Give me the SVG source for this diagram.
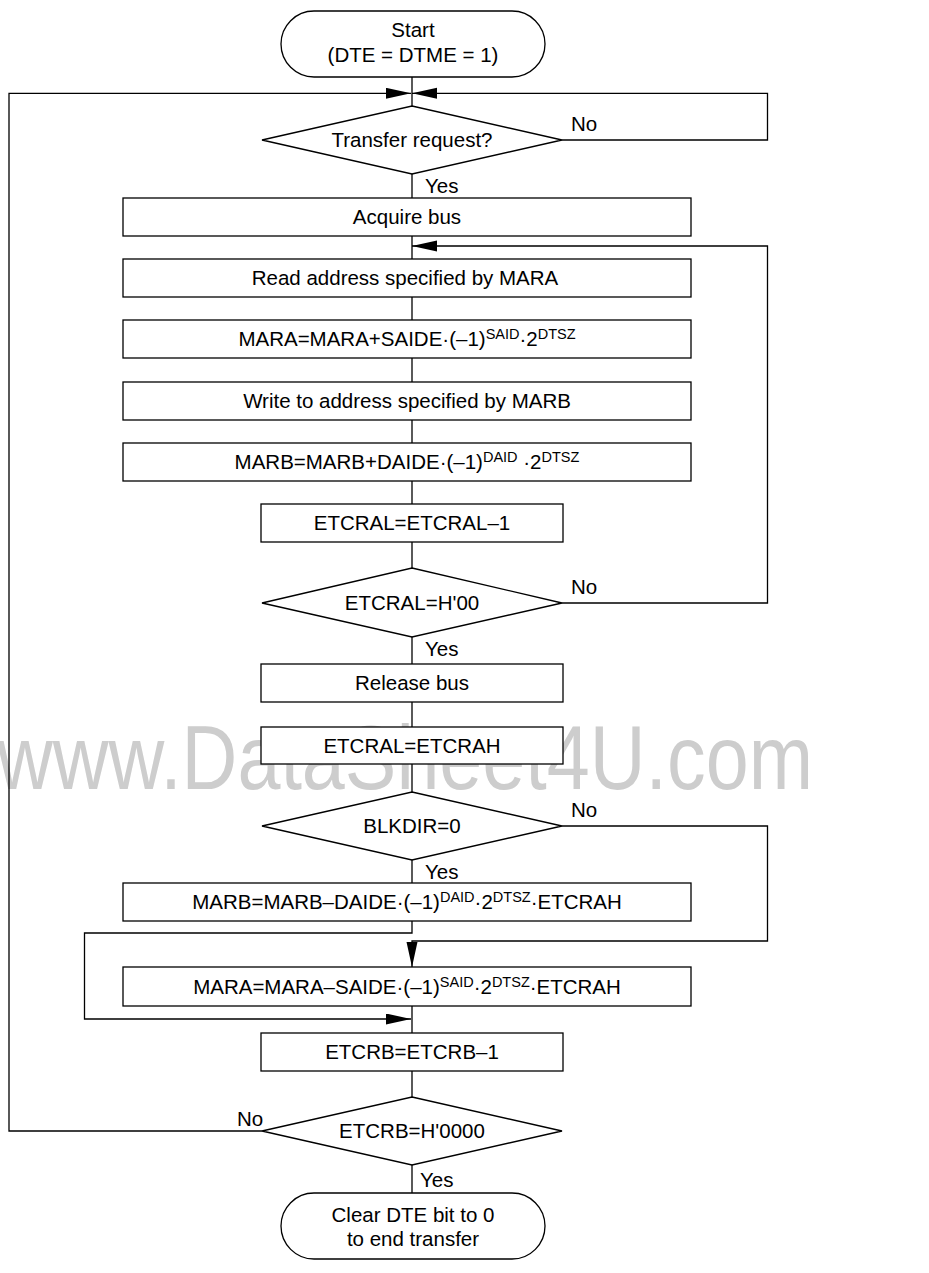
<svg xmlns="http://www.w3.org/2000/svg" width="929" height="1273" viewBox="0 0 929 1273">
<defs>
<marker id="ah" markerUnits="userSpaceOnUse" markerWidth="26" markerHeight="12" refX="25" refY="5.5" orient="auto">
<path d="M0,0 L25,5.5 L0,11 z" fill="#000"/>
</marker>
</defs>
<style>
.s{fill:#fff;stroke:#000;stroke-width:1.3}
.c{fill:none;stroke:#000;stroke-width:1.3}
.a{marker-end:url(#ah)}
text{font-family:"Liberation Sans",Arial,sans-serif;font-size:20.5px;fill:#000}
.m{text-anchor:middle}
.sup{font-size:14.5px}
.wm{font-size:90px;fill:#cdcdcd}
</style>
<rect width="929" height="1273" fill="#fff"/>
<text class="wm" x="-3" y="789" textLength="816" lengthAdjust="spacingAndGlyphs">www.DataSheet4U.com</text>
<g id="connectors">
<path class="c" d="M412,77 V106"/>
<path class="c a" d="M262,1131 H9 V93.3 H411"/>
<path class="c a" d="M562,140 H767.5 V93.3 H412"/>
<path class="c" d="M412,174 V198"/>
<path class="c" d="M412,236 V259"/>
<path class="c a" d="M562,603 H767.5 V246 H412"/>
<path class="c" d="M412,297 V320"/>
<path class="c" d="M412,358 V382"/>
<path class="c" d="M412,420 V443"/>
<path class="c" d="M412,481 V504"/>
<path class="c" d="M412,542 V568"/>
<path class="c" d="M412,637 V664"/>
<path class="c" d="M412,702 V727"/>
<path class="c" d="M412,764 V792"/>
<path class="c" d="M412,860 V883"/>
<path class="c a" d="M562,826 H767.5 V941 H412 V967"/>
<path class="c a" d="M412,921 V933 H84.5 V1019 H411"/>
<path class="c" d="M412,1006 V1033"/>
<path class="c" d="M412,1071 V1097"/>
<path class="c" d="M412,1165 V1193"/>
<text x="571" y="131">No</text>
<text x="425" y="193">Yes</text>
<text x="571" y="594">No</text>
<text x="425" y="656">Yes</text>
<text x="571" y="817">No</text>
<text x="425" y="879">Yes</text>
<text x="237" y="1126">No</text>
<text x="420" y="1187">Yes</text>
</g>
<g id="start">
<rect class="s" x="281" y="11" width="264" height="66" rx="33"/>
<text class="m" x="413" y="37">Start</text>
<text class="m" x="413" y="62">(DTE = DTME = 1)</text>
</g>
<g id="transfer-request">
<polygon class="s" points="412,106 562,140 412,174 262,140"/>
<text class="m" x="412" y="147">Transfer request?</text>
</g>
<g id="acquire-bus">
<rect class="s" x="123" y="198" width="568" height="38"/>
<text class="m" x="407" y="224">Acquire bus</text>
</g>
<g id="read-mara">
<rect class="s" x="123" y="259" width="568" height="38"/>
<text class="m" x="405" y="285">Read address specified by MARA</text>
</g>
<g id="mara-inc">
<rect class="s" x="123" y="320" width="568" height="38"/>
<text class="m" x="407" y="346">MARA=MARA+SAIDE·(–1)<tspan class="sup" dy="-7">SAID</tspan><tspan dy="7">·2</tspan><tspan class="sup" dy="-7">DTSZ</tspan></text>
</g>
<g id="write-marb">
<rect class="s" x="123" y="382" width="568" height="38"/>
<text class="m" x="407" y="408">Write to address specified by MARB</text>
</g>
<g id="marb-inc">
<rect class="s" x="123" y="443" width="568" height="38"/>
<text class="m" x="407" y="469">MARB=MARB+DAIDE·(–1)<tspan class="sup" dy="-7">DAID</tspan><tspan dy="7"> ·2</tspan><tspan class="sup" dy="-7">DTSZ</tspan></text>
</g>
<g id="etcral-dec">
<rect class="s" x="261" y="504" width="302" height="38"/>
<text class="m" x="412" y="530">ETCRAL=ETCRAL–1</text>
</g>
<g id="etcral-zero">
<polygon class="s" points="412,568 562,603 412,637 262,603"/>
<text class="m" x="412" y="610">ETCRAL=H'00</text>
</g>
<g id="release-bus">
<rect class="s" x="261" y="664" width="302" height="38"/>
<text class="m" x="412" y="690">Release bus</text>
</g>
<g id="etcral-reload">
<rect class="s" x="261" y="727" width="302" height="37"/>
<text class="m" x="412" y="753">ETCRAL=ETCRAH</text>
</g>
<g id="blkdir">
<polygon class="s" points="412,792 562,826 412,860 262,826"/>
<text class="m" x="412" y="833">BLKDIR=0</text>
</g>
<g id="marb-rewind">
<rect class="s" x="123" y="883" width="568" height="38"/>
<text class="m" x="407" y="909">MARB=MARB–DAIDE·(–1)<tspan class="sup" dy="-7">DAID</tspan><tspan dy="7">·2</tspan><tspan class="sup" dy="-7">DTSZ</tspan><tspan dy="7">·ETCRAH</tspan></text>
</g>
<g id="mara-rewind">
<rect class="s" x="123" y="967" width="568" height="39"/>
<text class="m" x="407" y="994">MARA=MARA–SAIDE·(–1)<tspan class="sup" dy="-7">SAID</tspan><tspan dy="7">·2</tspan><tspan class="sup" dy="-7">DTSZ</tspan><tspan dy="7">·ETCRAH</tspan></text>
</g>
<g id="etcrb-dec">
<rect class="s" x="261" y="1033" width="302" height="38"/>
<text class="m" x="412" y="1059">ETCRB=ETCRB–1</text>
</g>
<g id="etcrb-zero">
<polygon class="s" points="412,1097 562,1131 412,1165 262,1131"/>
<text class="m" x="412" y="1138">ETCRB=H'0000</text>
</g>
<g id="end">
<rect class="s" x="281" y="1193" width="264" height="66" rx="33"/>
<text class="m" x="413" y="1222">Clear DTE bit to 0</text>
<text class="m" x="413" y="1246">to end transfer</text>
</g>
</svg>
